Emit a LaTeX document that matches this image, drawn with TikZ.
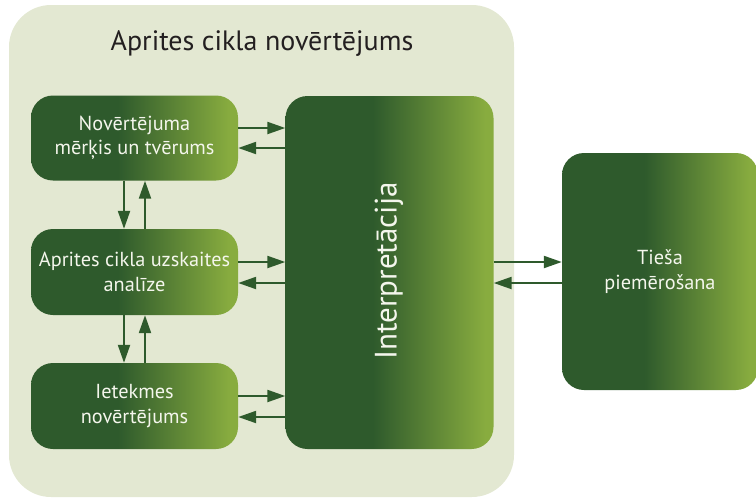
\documentclass[tikz,border=0pt]{standalone}
\usepackage{fontspec}
\setmainfont{PT Sans}
\usetikzlibrary{arrows.meta}
\definecolor{dg}{HTML}{2E5A2C}
\definecolor{lg}{HTML}{88AC3F}
\definecolor{bgc}{HTML}{E3E8D2}
\definecolor{txt}{HTML}{231F20}
\definecolor{wt}{HTML}{F4F6EC}
\pgfdeclarehorizontalshading{gshade}{100bp}{color(0bp)=(dg); color(25bp)=(dg); color(46bp)=(dg); color(73bp)=(lg); color(100bp)=(lg)}
\tikzset{
  gbox/.style={rectangle, rounded corners=22pt, shading=gshade, text=wt, align=center, inner sep=0pt},
  btext/.style={font=\fontsize{20.3}{24.5}\selectfont},
  arr/.style={draw=dg, line width=2.2pt, -{Triangle[length=18pt,width=12pt]}},
}
\begin{document}
\begin{tikzpicture}[x=1pt,y=-1pt]
\useasboundingbox (0,0) rectangle (756,499);
\fill[bgc, rounded corners=42pt] (9,5) rectangle (514,497);
\node[text=txt, font=\fontsize{28}{32}\selectfont] (title) at (262,44) {Aprites cikla novērtējums};
\node[gbox, btext, minimum width=207pt, minimum height=85pt] (b1) at (134.5,138) {Novērtējuma\\mērķis un tvērums};
\node[gbox, btext, minimum width=207pt, minimum height=86pt] (b2) at (134.5,272) {Aprites cikla uzskaites\\analīze};
\node[gbox, btext, minimum width=207pt, minimum height=86pt] (b3) at (134.5,406) {Ietekmes\\novērtējums};
\node[gbox, minimum width=208pt, minimum height=353pt] (ip) at (389.5,272.5) {};
\node[text=wt, rotate=90, font=\fontsize{31}{36}\selectfont] (iptext) at (389,271) {Interpretācija};
\node[gbox, btext, minimum width=196pt, minimum height=237pt] (ts) at (660,271.5) {Tieša\\piemērošana};
% horizontal arrows
\draw[arr] (b1.east |- 0,128) -- (ip.west |- 0,128);
\draw[arr] (ip.west |- 0,148) -- (b1.east |- 0,148);
\draw[arr] (b2.east |- 0,262) -- (ip.west |- 0,262);
\draw[arr] (ip.west |- 0,283) -- (b2.east |- 0,283);
\draw[arr] (b3.east |- 0,396) -- (ip.west |- 0,396);
\draw[arr] (ip.west |- 0,417) -- (b3.east |- 0,417);
\draw[arr] (ip.east |- 0,262) -- (ts.west |- 0,262);
\draw[arr] (ts.west |- 0,283) -- (ip.east |- 0,283);
% vertical arrows
\draw[arr] (b1.south -| 124,0) -- (b2.north -| 124,0);
\draw[arr] (b2.north -| 145,0) -- (b1.south -| 145,0);
\draw[arr] (b2.south -| 124,0) -- (b3.north -| 124,0);
\draw[arr] (b3.north -| 145,0) -- (b2.south -| 145,0);
\end{tikzpicture}
\end{document}
